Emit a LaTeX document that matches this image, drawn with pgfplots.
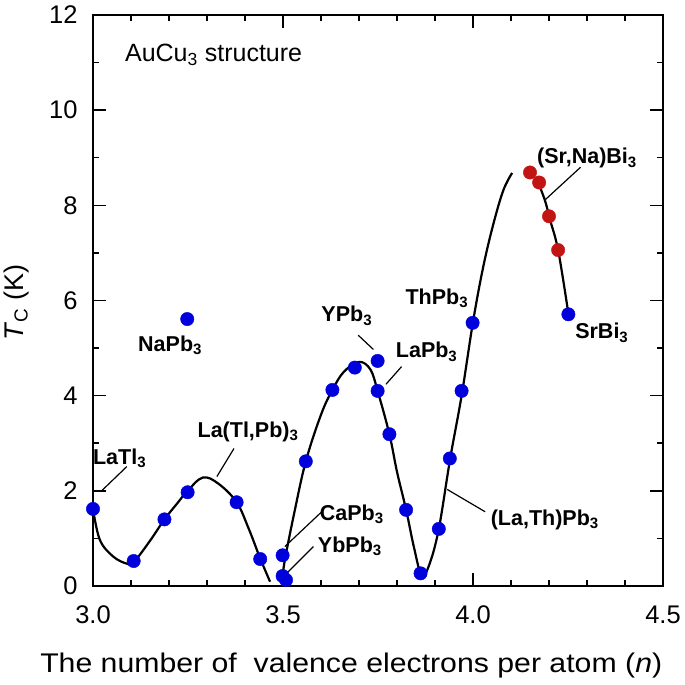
\documentclass[border=0pt]{standalone}
\usepackage{pgfplots}
\pgfplotsset{compat=1.18}
\usepackage{fontspec}
\setmainfont{Liberation Sans}
\newfontfamily\widefont[FakeStretch=1.12]{Liberation Sans}
\definecolor{mblue}{RGB}{0,0,220}
\definecolor{mred}{RGB}{195,20,20}
\tikzset{lab/.style={font=\bfseries\fontsize{21.5}{24}\selectfont, inner sep=0pt}}
\begin{document}
\begin{tikzpicture}
\useasboundingbox (-93pt,-99pt) rectangle (592pt,586pt);
\begin{axis}[
  scale only axis, width=570pt, height=571pt,
  xmin=3, xmax=4.5, ymin=0, ymax=12,
  xtick={3,3.5,4,4.5}, minor x tick num=4,
  ytick={0,2,4,6,8,10,12}, minor y tick num=1,
  tick align=inside, major tick length=13pt, minor tick length=6.5pt,
  xticklabel style={/pgf/number format/fixed, /pgf/number format/fixed zerofill, /pgf/number format/precision=1, yshift=-16pt},
  /pgf/number format/assume math mode=true,
  tick label style={font=\fontsize{25.5}{28}\selectfont},
  yticklabel style={xshift=-12pt},
  axis line style={line width=2pt},
  every tick/.style={line width=1.5pt, black},
  xlabel={The number of\ \ valence electrons per atom (\textit{n})},
  xlabel style={font=\widefont\fontsize{27}{30}\selectfont, at={(axis description cs:0.453,-0.14)}, anchor=center},
  ylabel={\textit{T}\textsubscript{C} (K)},
  ylabel style={font=\fontsize{27}{30}\selectfont, at={(axis description cs:-0.135,0.496)}, anchor=center},
  clip=false,
]
% smooth curves
\addplot[black, line width=2.2pt, smooth, tension=0.6] coordinates {
 (3.0,1.62) (3.018,0.97) (3.053,0.62) (3.089,0.47) (3.107,0.50) (3.15,0.95) (3.188,1.40)
 (3.22,1.72) (3.249,2.0) (3.289,2.28) (3.33,2.15) (3.378,1.76) (3.41,1.2) (3.44,0.58) (3.466,0.09)};
\addplot[black, line width=2.2pt, smooth, tension=0.6] coordinates {
 (3.497,0.09) (3.505,0.55) (3.53,1.55) (3.56,2.62) (3.6,3.6) (3.63,4.12) (3.66,4.5) (3.70,4.71)
 (3.73,4.55) (3.749,4.10) (3.78,3.19) (3.80,2.4) (3.824,1.6) (3.845,0.8) (3.865,0.22) (3.885,0.45)
 (3.91,1.2) (3.94,2.68) (3.97,4.0) (4.0,5.55) (4.027,6.71) (4.054,7.62) (4.08,8.32) (4.103,8.68)};
\addplot[black, line width=2.2pt, smooth, tension=0.6] coordinates {
 (4.167,8.57) (4.189,8.11) (4.203,7.69) (4.224,7.06) (4.249,5.83)};
% leader lines
\addplot[black, line width=1.2pt] coordinates {(3.089,2.51) (3.02,1.98)};
\addplot[black, line width=1.2pt] coordinates {(3.371,2.89) (3.326,2.30)};
\addplot[black, line width=1.2pt] coordinates {(3.698,5.27) (3.738,4.97)};
\addplot[black, line width=1.2pt] coordinates {(3.812,4.61) (3.771,4.24)};
\addplot[black, line width=1.2pt] coordinates {(3.602,1.56) (3.505,0.83)};
\addplot[black, line width=1.2pt] coordinates {(3.58,0.83) (3.51,0.27)};
\addplot[black, line width=1.2pt] coordinates {(4.032,1.56) (3.932,2.03)};
\addplot[black, line width=1.2pt] coordinates {(4.283,8.80) (4.189,8.11)};
% blue points
\addplot[only marks, mark=*, mark size=6.7pt, mark options={fill=mblue, draw=mblue}] coordinates {
 (3.0,1.62) (3.107,0.525) (3.188,1.40) (3.249,1.97) (3.378,1.76) (3.44,0.567)
 (3.499,0.645) (3.499,0.21) (3.508,0.126) (3.248,5.61)
 (3.56,2.62) (3.63,4.12) (3.689,4.59) (3.749,4.73) (3.749,4.10) (3.78,3.19) (3.824,1.60)
 (3.862,0.266) (3.91,1.20) (3.939,2.68) (3.970,4.10) (3.999,5.53) (4.251,5.71)};
% red points
\addplot[only marks, mark=*, mark size=6.7pt, mark options={fill=mred, draw=mred}] coordinates {
 (4.15,8.69) (4.174,8.48) (4.2,7.77) (4.224,7.06)};
% labels
\node[lab] at (axis cs:3.07,2.68) {LaTl\textsubscript{3}};
\node[lab] at (axis cs:3.408,3.24) {La(Tl,Pb)\textsubscript{3}};
\node[lab] at (axis cs:3.203,5.06) {NaPb\textsubscript{3}};
\node[lab] at (axis cs:3.668,5.68) {YPb\textsubscript{3}};
\node[lab] at (axis cs:3.878,4.92) {LaPb\textsubscript{3}};
\node[lab] at (axis cs:3.681,1.51) {CaPb\textsubscript{3}};
\node[lab] at (axis cs:3.676,0.84) {YbPb\textsubscript{3}};
\node[lab] at (axis cs:4.189,1.39) {(La,Th)Pb\textsubscript{3}};
\node[lab] at (axis cs:3.905,6.05) {ThPb\textsubscript{3}};
\node[lab] at (axis cs:4.30,8.99) {(Sr,Na)Bi\textsubscript{3}};
\node[lab] at (axis cs:4.339,5.32) {SrBi\textsubscript{3}};
\node[anchor=west, font=\fontsize{25}{28}\selectfont, inner sep=0pt] at (axis cs:3.084,11.16) {AuCu\textsubscript{3} structure};
\end{axis}
\end{tikzpicture}
\end{document}
